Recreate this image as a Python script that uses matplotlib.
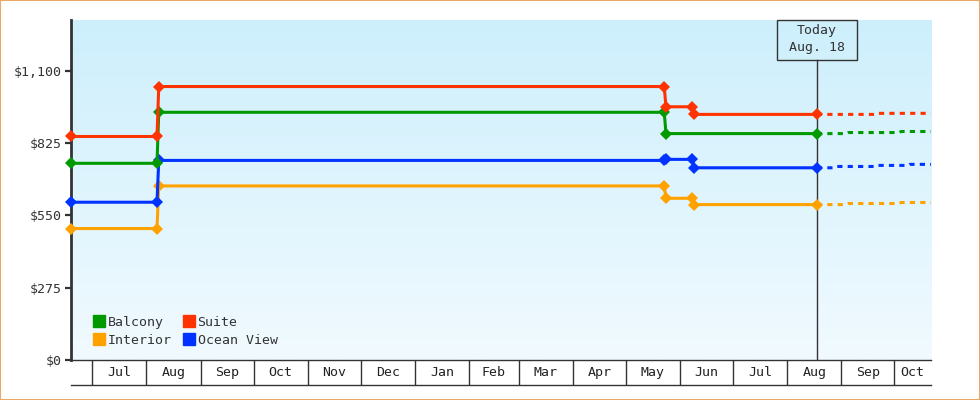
import numpy as np
import pandas as pd
import matplotlib
matplotlib.use('Agg')
import matplotlib.pyplot as plt
from matplotlib.patches import Rectangle
from matplotlib.lines import Line2D

plt.rcParams['font.family'] = ['DejaVu Sans Mono']
plt.rcParams['font.size'] = 9.5

# price history (solid) per cabin type
suite_dates = ['2014-06-19', '2014-08-07', '2014-08-08', '2015-05-23', '2015-05-24',
               '2015-06-08', '2015-06-09', '2015-08-18']
suite = [850, 850, 1040, 1040, 963, 963, 934, 934]
balcony_dates = ['2014-06-19', '2014-08-07', '2014-08-08', '2015-05-23', '2015-05-24',
                 '2015-08-18']
balcony = [748, 748, 942, 942, 861, 861]
ocean_dates = suite_dates
ocean = [600, 600, 759, 759, 763, 763, 731, 731]
interior_dates = suite_dates
interior = [500, 500, 662, 662, 615, 615, 591, 591]

# forecast (dashed)
suite_fc_dates = ['2015-08-18', '2015-09-20', '2015-09-21', '2015-10-22']
suite_fc = [934, 934, 938, 938]
balcony_fc_dates = ['2015-08-18', '2015-09-04', '2015-09-05', '2015-10-04', '2015-10-05', '2015-10-22']
balcony_fc = [861, 861, 865, 865, 869, 869]
ocean_fc_dates = ['2015-08-18', '2015-08-28', '2015-08-29', '2015-09-20', '2015-09-21',
                  '2015-10-09', '2015-10-10', '2015-10-22']
ocean_fc = [731, 731, 736, 736, 740, 740, 744, 744]
interior_fc_dates = ['2015-08-18', '2015-09-04', '2015-09-05', '2015-10-04', '2015-10-05', '2015-10-22']
interior_fc = [591, 591, 595, 595, 599, 599]

today = '2015-08-18'
today_label = 'Today\nAug. 18'
x_start, x_end = '2014-06-19', '2015-10-22'
month_labels = ['Jul', 'Aug', 'Sep', 'Oct', 'Nov', 'Dec', 'Jan', 'Feb', 'Mar', 'Apr',
                'May', 'Jun', 'Jul', 'Aug', 'Sep', 'Oct']
y_ticks = [0, 275, 550, 825, 1100]

series = [
    ('Interior', '#ffa200', interior_dates, interior, interior_fc_dates, interior_fc),
    ('Ocean View', '#0033ff', ocean_dates, ocean, ocean_fc_dates, ocean_fc),
    ('Balcony', '#009900', balcony_dates, balcony, balcony_fc_dates, balcony_fc),
    ('Suite', '#ff3300', suite_dates, suite, suite_fc_dates, suite_fc),
]

fig = plt.figure(figsize=(9.8, 4), dpi=100)
ax = fig.add_axes([71 / 980, 40 / 400, 860 / 980, 340 / 400])

# background gradient
grad = np.linspace(0, 1, 256)[:, None, None]
top = np.array([205, 239, 252]) / 255
bottom = np.array([241, 250, 255]) / 255
img = top + (bottom - top) * grad
ax.imshow(img, extent=[0, 1, 0, 1], transform=ax.transAxes, aspect='auto', zorder=0)

for name, color, d, v, fd, fv in series:
    ax.plot(pd.to_datetime(fd), fv, color=color, lw=2.2, linestyle=(0, (1.7, 1.7)), zorder=3)
    ax.plot(pd.to_datetime(d), v, color=color, lw=2.2, marker='D', markersize=6.5,
            markeredgewidth=0, zorder=4, clip_on=False)

xmin, xmax = pd.Timestamp(x_start), pd.Timestamp(x_end)
ax.set_xlim(xmin, xmax)
ax.set_ylim(0, 1293)

# today marker line and box
t = pd.Timestamp(today)
box_h = 40 / 340
ax.plot([t, t], [0, 1 - box_h], color='#333333', lw=1, transform=ax.get_xaxis_transform(), zorder=2)
tx = (t - xmin) / (xmax - xmin)
box_w = 80 / 860
ax.add_patch(Rectangle((tx - box_w / 2, 1 - box_h), box_w, box_h, transform=ax.transAxes,
                       fill=False, ec='#333333', lw=1, zorder=5, clip_on=False))
ax.text(tx, 1 - box_h / 2 + 0.004, today_label, transform=ax.transAxes, ha='center', va='center',
        multialignment='center', color='#333333', linespacing=1.4, zorder=6)

# y axis
ax.set_yticks(y_ticks)
ax.set_yticklabels([f'${v:,.0f}' for v in y_ticks])
ax.tick_params(axis='y', length=4.5, width=1.6, color='#333333', labelcolor='#333333', pad=2)

# month strip
month_starts = pd.date_range('2014-07-01', '2015-10-01', freq='MS')
ax.set_xticks(month_starts)
ax.set_xticklabels([])
ax.tick_params(axis='x', which='major', length=18, width=1, color='#333333')
mids = []
for s in month_starts:
    e = s + pd.offsets.MonthBegin(1)
    mids.append(s + (min(e, xmax) - s) / 2)
ax.set_xticks(mids, minor=True)
ax.set_xticklabels(month_labels, minor=True)
ax.tick_params(axis='x', which='minor', length=0, pad=4.5, labelcolor='#222222')
ax.plot([0, 1], [-25 / 340] * 2, transform=ax.transAxes, color='#333333', lw=1, clip_on=False)

for s in ['top', 'right']:
    ax.spines[s].set_visible(False)
ax.spines['left'].set_linewidth(2)
ax.spines['left'].set_color('#333333')
ax.spines['bottom'].set_linewidth(1)
ax.spines['bottom'].set_color('#333333')

# legend
handles = [Line2D([], [], color=c, marker='s', linestyle='none', markersize=8)
           for c in ['#009900', '#ffa200', '#ff3300', '#0033ff']]
labels = ['Balcony', 'Interior', 'Suite', 'Ocean View']
ax.legend(handles, labels, ncol=2, loc='lower left', bbox_to_anchor=(0.026, 0.038),
          frameon=False, handlelength=0.9, handletextpad=0.2, columnspacing=0.85,
          labelspacing=0.42, borderpad=0, borderaxespad=0, labelcolor='#333333')

fig.patches.append(Rectangle((0, 0), 1, 1, transform=fig.transFigure, fill=False,
                             ec='#e9a866', lw=1.5))

fig.savefig('out.png', dpi=100)
